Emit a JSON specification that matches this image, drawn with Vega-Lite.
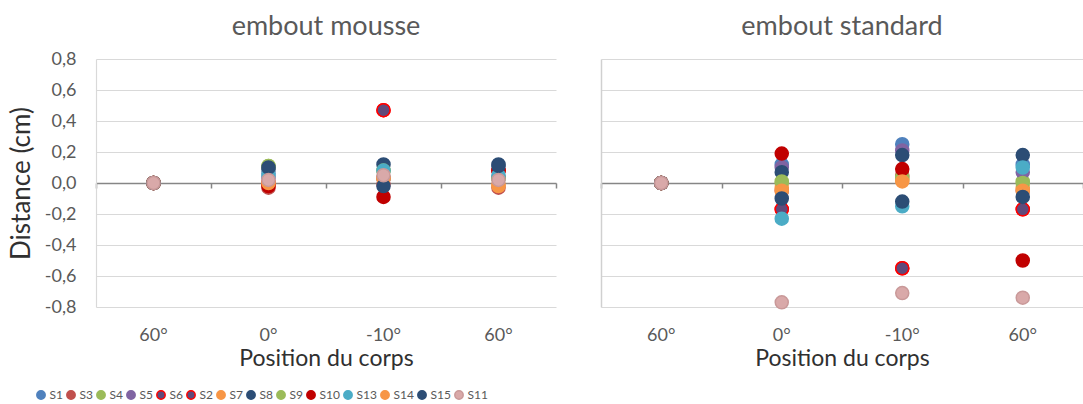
{
  "$schema": "https://vega.github.io/schema/vega-lite/v6.json",
  "padding": {"left": 8, "top": 13, "right": 0, "bottom": 0},
  "data": {"values": [
    {"panel": "mousse", "pos": "A", "series": "S1", "v": 0.0},
    {"panel": "mousse", "pos": "A", "series": "S3", "v": 0.0},
    {"panel": "mousse", "pos": "A", "series": "S4", "v": 0.0},
    {"panel": "mousse", "pos": "A", "series": "S5", "v": 0.0},
    {"panel": "mousse", "pos": "A", "series": "S6", "v": 0.0},
    {"panel": "mousse", "pos": "A", "series": "S2", "v": 0.0},
    {"panel": "mousse", "pos": "A", "series": "S7", "v": 0.0},
    {"panel": "mousse", "pos": "A", "series": "S8", "v": 0.0},
    {"panel": "mousse", "pos": "A", "series": "S9", "v": 0.0},
    {"panel": "mousse", "pos": "A", "series": "S10", "v": 0.0},
    {"panel": "mousse", "pos": "A", "series": "S13", "v": 0.0},
    {"panel": "mousse", "pos": "A", "series": "S14", "v": 0.0},
    {"panel": "mousse", "pos": "A", "series": "S15", "v": 0.0},
    {"panel": "mousse", "pos": "A", "series": "S11", "v": 0.0},
    {"panel": "mousse", "pos": "B", "series": "S1", "v": 0.06},
    {"panel": "mousse", "pos": "B", "series": "S3", "v": -0.03},
    {"panel": "mousse", "pos": "B", "series": "S4", "v": 0.11},
    {"panel": "mousse", "pos": "B", "series": "S5", "v": 0.03},
    {"panel": "mousse", "pos": "B", "series": "S6", "v": 0.0},
    {"panel": "mousse", "pos": "B", "series": "S2", "v": 0.0},
    {"panel": "mousse", "pos": "B", "series": "S7", "v": 0.0},
    {"panel": "mousse", "pos": "B", "series": "S8", "v": 0.09},
    {"panel": "mousse", "pos": "B", "series": "S9", "v": 0.11},
    {"panel": "mousse", "pos": "B", "series": "S10", "v": -0.02},
    {"panel": "mousse", "pos": "B", "series": "S13", "v": 0.05},
    {"panel": "mousse", "pos": "B", "series": "S14", "v": 0.0},
    {"panel": "mousse", "pos": "B", "series": "S15", "v": 0.10},
    {"panel": "mousse", "pos": "B", "series": "S11", "v": 0.02},
    {"panel": "mousse", "pos": "C", "series": "S1", "v": 0.03},
    {"panel": "mousse", "pos": "C", "series": "S3", "v": -0.01},
    {"panel": "mousse", "pos": "C", "series": "S4", "v": 0.08},
    {"panel": "mousse", "pos": "C", "series": "S5", "v": 0.03},
    {"panel": "mousse", "pos": "C", "series": "S6", "v": 0.47},
    {"panel": "mousse", "pos": "C", "series": "S2", "v": 0.47},
    {"panel": "mousse", "pos": "C", "series": "S7", "v": 0.03},
    {"panel": "mousse", "pos": "C", "series": "S8", "v": 0.12},
    {"panel": "mousse", "pos": "C", "series": "S9", "v": 0.08},
    {"panel": "mousse", "pos": "C", "series": "S10", "v": -0.09},
    {"panel": "mousse", "pos": "C", "series": "S13", "v": 0.08},
    {"panel": "mousse", "pos": "C", "series": "S14", "v": 0.03},
    {"panel": "mousse", "pos": "C", "series": "S15", "v": -0.02},
    {"panel": "mousse", "pos": "C", "series": "S11", "v": 0.05},
    {"panel": "mousse", "pos": "D", "series": "S1", "v": 0.03},
    {"panel": "mousse", "pos": "D", "series": "S3", "v": -0.03},
    {"panel": "mousse", "pos": "D", "series": "S4", "v": 0.03},
    {"panel": "mousse", "pos": "D", "series": "S5", "v": 0.04},
    {"panel": "mousse", "pos": "D", "series": "S6", "v": 0.08},
    {"panel": "mousse", "pos": "D", "series": "S2", "v": 0.08},
    {"panel": "mousse", "pos": "D", "series": "S7", "v": -0.01},
    {"panel": "mousse", "pos": "D", "series": "S8", "v": 0.12},
    {"panel": "mousse", "pos": "D", "series": "S9", "v": 0.03},
    {"panel": "mousse", "pos": "D", "series": "S10", "v": 0.08},
    {"panel": "mousse", "pos": "D", "series": "S13", "v": 0.05},
    {"panel": "mousse", "pos": "D", "series": "S14", "v": -0.02},
    {"panel": "mousse", "pos": "D", "series": "S15", "v": 0.11},
    {"panel": "mousse", "pos": "D", "series": "S11", "v": 0.02},
    {"panel": "standard", "pos": "A", "series": "S1", "v": 0.0},
    {"panel": "standard", "pos": "A", "series": "S3", "v": 0.0},
    {"panel": "standard", "pos": "A", "series": "S4", "v": 0.0},
    {"panel": "standard", "pos": "A", "series": "S5", "v": 0.0},
    {"panel": "standard", "pos": "A", "series": "S6", "v": 0.0},
    {"panel": "standard", "pos": "A", "series": "S2", "v": 0.0},
    {"panel": "standard", "pos": "A", "series": "S7", "v": 0.0},
    {"panel": "standard", "pos": "A", "series": "S8", "v": 0.0},
    {"panel": "standard", "pos": "A", "series": "S9", "v": 0.0},
    {"panel": "standard", "pos": "A", "series": "S10", "v": 0.0},
    {"panel": "standard", "pos": "A", "series": "S13", "v": 0.0},
    {"panel": "standard", "pos": "A", "series": "S14", "v": 0.0},
    {"panel": "standard", "pos": "A", "series": "S15", "v": 0.0},
    {"panel": "standard", "pos": "A", "series": "S11", "v": 0.0},
    {"panel": "standard", "pos": "B", "series": "S1", "v": 0.12},
    {"panel": "standard", "pos": "B", "series": "S3", "v": -0.05},
    {"panel": "standard", "pos": "B", "series": "S4", "v": 0.0},
    {"panel": "standard", "pos": "B", "series": "S5", "v": 0.10},
    {"panel": "standard", "pos": "B", "series": "S6", "v": -0.17},
    {"panel": "standard", "pos": "B", "series": "S2", "v": -0.17},
    {"panel": "standard", "pos": "B", "series": "S7", "v": -0.03},
    {"panel": "standard", "pos": "B", "series": "S8", "v": 0.07},
    {"panel": "standard", "pos": "B", "series": "S9", "v": 0.01},
    {"panel": "standard", "pos": "B", "series": "S10", "v": 0.19},
    {"panel": "standard", "pos": "B", "series": "S13", "v": -0.23},
    {"panel": "standard", "pos": "B", "series": "S14", "v": -0.05},
    {"panel": "standard", "pos": "B", "series": "S15", "v": -0.10},
    {"panel": "standard", "pos": "B", "series": "S11", "v": -0.77},
    {"panel": "standard", "pos": "C", "series": "S1", "v": 0.25},
    {"panel": "standard", "pos": "C", "series": "S3", "v": 0.05},
    {"panel": "standard", "pos": "C", "series": "S4", "v": 0.04},
    {"panel": "standard", "pos": "C", "series": "S5", "v": 0.21},
    {"panel": "standard", "pos": "C", "series": "S6", "v": -0.55},
    {"panel": "standard", "pos": "C", "series": "S2", "v": -0.55},
    {"panel": "standard", "pos": "C", "series": "S7", "v": 0.02},
    {"panel": "standard", "pos": "C", "series": "S8", "v": 0.18},
    {"panel": "standard", "pos": "C", "series": "S9", "v": 0.03},
    {"panel": "standard", "pos": "C", "series": "S10", "v": 0.09},
    {"panel": "standard", "pos": "C", "series": "S13", "v": -0.15},
    {"panel": "standard", "pos": "C", "series": "S14", "v": 0.01},
    {"panel": "standard", "pos": "C", "series": "S15", "v": -0.12},
    {"panel": "standard", "pos": "C", "series": "S11", "v": -0.71},
    {"panel": "standard", "pos": "D", "series": "S1", "v": 0.12},
    {"panel": "standard", "pos": "D", "series": "S3", "v": -0.05},
    {"panel": "standard", "pos": "D", "series": "S4", "v": 0.01},
    {"panel": "standard", "pos": "D", "series": "S5", "v": 0.07},
    {"panel": "standard", "pos": "D", "series": "S6", "v": -0.17},
    {"panel": "standard", "pos": "D", "series": "S2", "v": -0.17},
    {"panel": "standard", "pos": "D", "series": "S7", "v": -0.03},
    {"panel": "standard", "pos": "D", "series": "S8", "v": 0.18},
    {"panel": "standard", "pos": "D", "series": "S9", "v": 0.0},
    {"panel": "standard", "pos": "D", "series": "S10", "v": -0.50},
    {"panel": "standard", "pos": "D", "series": "S13", "v": 0.10},
    {"panel": "standard", "pos": "D", "series": "S14", "v": -0.05},
    {"panel": "standard", "pos": "D", "series": "S15", "v": -0.09},
    {"panel": "standard", "pos": "D", "series": "S11", "v": -0.74}
  ]},
  "spacing": 43,
  "hconcat": [
    {
      "width": 460,
      "height": 248,
      "title": {"text": "embout mousse", "offset": 9},
      "transform": [{"filter": "datum.panel == 'mousse'"}],
      "encoding": {
        "y": {"field": "v", "type": "quantitative", "scale": {"domain": [-0.8, 0.8], "nice": false, "zero": false},
          "axis": {"values": [-0.8, -0.6, -0.4, -0.2, 0, 0.2, 0.4, 0.6, 0.8], "format": ".1f", "title": "Distance (cm)", "labelOverlap": false,
            "grid": true, "gridColor": "#D9D9D9", "gridWidth": 1.2, "domainColor": "#D9D9D9", "domainWidth": 1.2, "ticks": false,
            "labelFontSize": 18, "labelColor": "#595959", "labelPadding": 20, "titleFontSize": 26, "titleFontWeight": "normal", "titleColor": "#303030", "titlePadding": 10}}
      },
      "layer": [
        {
          "mark": {"type": "point", "opacity": 0},
          "encoding": {
            "x": {"field": "pos", "type": "nominal", "sort": ["A", "B", "C", "D"],
              "scale": {"type": "band", "paddingInner": 0, "paddingOuter": 0},
              "axis": {"orient": "bottom", "offset": -124, "labels": false, "title": null, "grid": false,
                "domainColor": "#868686", "domainWidth": 1.5, "tickColor": "#868686", "tickWidth": 1.5, "tickSize": 5, "tickBand": "extent"}}
          }
        },
        {
          "mark": {"type": "circle", "size": 170, "opacity": 1, "strokeWidth": 1.5},
          "encoding": {
            "x": {"field": "pos", "type": "nominal", "sort": ["A", "B", "C", "D"],
              "axis": {"orient": "bottom", "labelExpr": "datum.value == 'A' ? '60°' : datum.value == 'B' ? '0°' : datum.value == 'C' ? '-10°' : '60°'",
                "domain": false, "ticks": false, "grid": false, "labelAngle": 0, "labelFontSize": 18, "labelColor": "#595959", "labelPadding": 19,
                "title": "Position du corps", "titleFontSize": 23, "titleFontWeight": "normal", "titleColor": "#303030", "titlePadding": 3}},
            "fill": {"field": "series", "type": "nominal", "title": null,
              "scale": {"domain": ["S1", "S3", "S4", "S5", "S6", "S2", "S7", "S8", "S9", "S10", "S13", "S14", "S15", "S11"],
                "range": ["#4F81BD", "#C0504D", "#9BBB59", "#8064A2", "#604A7B", "#604A7B", "#F79646", "#2C4D75", "#9BBB59", "#C00000", "#4BACC6", "#F79646", "#2C4D75", "#D9A9A9"]}},
            "stroke": {"field": "series", "type": "nominal", "title": null,
              "scale": {"domain": ["S1", "S3", "S4", "S5", "S6", "S2", "S7", "S8", "S9", "S10", "S13", "S14", "S15", "S11"],
                "range": ["#4F81BD", "#C0504D", "#9BBB59", "#8064A2", "#FF0000", "#FF0000", "#F79646", "#2C4D75", "#9BBB59", "#C00000", "#4BACC6", "#F79646", "#2C4D75", "#C99999"]}}
          }
        }
      ],
      "resolve": {"axis": {"x": "independent"}}
    },
    {
      "width": 482,
      "height": 248,
      "title": {"text": "embout standard", "offset": 18},
      "transform": [{"filter": "datum.panel == 'standard'"}],
      "encoding": {
        "y": {"field": "v", "type": "quantitative", "scale": {"domain": [-0.8, 0.8], "nice": false, "zero": false},
          "axis": {"values": [-0.8, -0.6, -0.4, -0.2, 0, 0.2, 0.4, 0.6, 0.8], "labels": false, "title": null,
            "grid": true, "gridColor": "#D9D9D9", "gridWidth": 1.2, "domainColor": "#D0D0D0", "domainWidth": 1.5, "ticks": false}}
      },
      "layer": [
        {
          "mark": {"type": "point", "opacity": 0},
          "encoding": {
            "x": {"field": "pos", "type": "nominal", "sort": ["A", "B", "C", "D"],
              "scale": {"type": "band", "paddingInner": 0, "paddingOuter": 0},
              "axis": {"orient": "bottom", "offset": -124, "labels": false, "title": null, "grid": false,
                "domainColor": "#868686", "domainWidth": 1.5, "tickColor": "#868686", "tickWidth": 1.5, "tickSize": 5, "tickBand": "extent"}}
          }
        },
        {
          "mark": {"type": "circle", "size": 170, "opacity": 1, "strokeWidth": 1.5},
          "encoding": {
            "x": {"field": "pos", "type": "nominal", "sort": ["A", "B", "C", "D"],
              "axis": {"orient": "bottom", "labelExpr": "datum.value == 'A' ? '60°' : datum.value == 'B' ? '0°' : datum.value == 'C' ? '-10°' : '60°'",
                "domain": false, "ticks": false, "grid": false, "labelAngle": 0, "labelFontSize": 18, "labelColor": "#595959", "labelPadding": 19,
                "title": "Position du corps", "titleFontSize": 23, "titleFontWeight": "normal", "titleColor": "#303030", "titlePadding": 3}},
            "fill": {"field": "series", "type": "nominal", "title": null},
            "stroke": {"field": "series", "type": "nominal", "title": null}
          }
        }
      ],
      "resolve": {"axis": {"x": "independent"}}
    }
  ],
  "resolve": {"scale": {"fill": "shared", "stroke": "shared"}},
  "config": {
    "view": {"stroke": null},
    "font": "Lato",
    "locale": {"number": {"decimal": ",", "thousands": " ", "grouping": [3], "currency": ["", " €"], "minus": "-"}},
    "title": {"fontSize": 27, "fontWeight": "normal", "color": "#595959", "font": "Lato", "frame": "group"},
    "legend": {"orient": "none", "legendX": -61, "legendY": 330, "direction": "horizontal", "symbolType": "circle", "symbolSize": 70, "symbolStrokeWidth": 1.5,
      "labelFontSize": 12, "labelColor": "#595959", "labelOffset": 2.5, "columnPadding": 0, "gridAlign": "none", "columns": 14}
  }
}
